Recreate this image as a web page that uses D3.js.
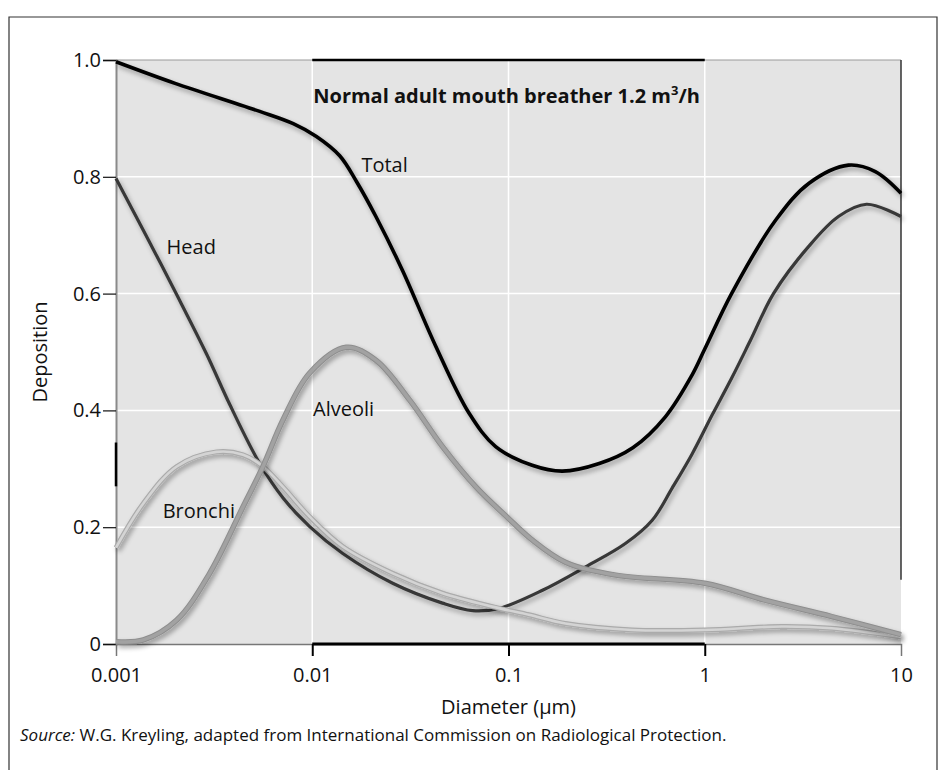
<!DOCTYPE html>
<html>
<head>
<meta charset="utf-8">
<script src="https://cdn.jsdelivr.net/npm/d3@7"></script>
<style>
  body { margin: 0; background: #fff; }
  text { font-family: "Open Sans", sans-serif; fill: #111; }
</style>
</head>
<body>
<div id="chart"></div>
<script>
// values (diameter in µm, deposition fraction)
var totalD = [0.001, 0.002, 0.0054, 0.008, 0.0105, 0.0138, 0.0168, 0.0211, 0.0288, 0.0427, 0.063, 0.086, 0.132, 0.188, 0.29, 0.43, 0.63, 0.86, 1, 1.37, 2.3, 3.4, 5.4, 7.4, 10];
var totalV = [0.997, 0.96, 0.912, 0.891, 0.869, 0.836, 0.792, 0.732, 0.64, 0.509, 0.395, 0.338, 0.306, 0.296, 0.309, 0.336, 0.389, 0.46, 0.505, 0.6, 0.726, 0.789, 0.82, 0.809, 0.772];

var headD = [0.001, 0.00138, 0.00204, 0.00289, 0.0038, 0.0054, 0.0071, 0.0097, 0.0143, 0.0257, 0.0461, 0.0656, 0.0895, 0.149, 0.247, 0.394, 0.54, 0.682, 0.861, 1.09, 1.37, 1.71, 2.24, 3.37, 4.8, 6.68, 10];
var headV = [0.797, 0.708, 0.598, 0.497, 0.41, 0.309, 0.25, 0.201, 0.155, 0.104, 0.07, 0.057, 0.061, 0.092, 0.132, 0.172, 0.212, 0.267, 0.325, 0.392, 0.455, 0.52, 0.6, 0.68, 0.732, 0.753, 0.732];

var alveoliD = [0.001, 0.00138, 0.00204, 0.003, 0.00444, 0.00561, 0.0071, 0.0097, 0.0149, 0.0211, 0.0313, 0.0461, 0.0682, 0.1, 0.13, 0.195, 0.352, 1, 2.03, 4.44, 10];
var alveoliV = [0.004, 0.007, 0.041, 0.121, 0.235, 0.304, 0.384, 0.464, 0.508, 0.486, 0.418, 0.338, 0.269, 0.215, 0.18, 0.14, 0.118, 0.104, 0.075, 0.047, 0.016];

var bronchiD = [0.001, 0.00138, 0.00204, 0.00325, 0.00444, 0.00561, 0.0071, 0.0097, 0.0143, 0.0257, 0.0461, 0.0828, 0.127, 0.195, 0.427, 1, 2.47, 4.44, 10];
var bronchiV = [0.165, 0.241, 0.304, 0.329, 0.324, 0.304, 0.269, 0.218, 0.167, 0.121, 0.087, 0.064, 0.05, 0.035, 0.024, 0.024, 0.03, 0.027, 0.012];

var xTicks = [0.001, 0.01, 0.1, 1, 10];
var yTicks = [0, 0.2, 0.4, 0.6, 0.8, 1.0];

var margin = { top: 60, right: 44, bottom: 126, left: 116 },
    width = 945 - margin.left - margin.right,
    height = 770 - margin.top - margin.bottom;

var root = d3.select("#chart")
    .append("svg")
    .attr("width", 945)
    .attr("height", 770);

// outer frame (no bottom edge visible)
root.append("path")
    .attr("d", "M9,770 L9,17 L937,17 L937,770")
    .attr("fill", "none")
    .attr("stroke", "#333")
    .attr("stroke-width", 1.2);

var svg = root.append("g")
    .attr("transform", "translate(" + margin.left + "," + margin.top + ")");

var x = d3.scaleLog().domain([0.001, 10]).range([0, width]);
var y = d3.scaleLinear().domain([0, 1]).range([height, 0]);

var defs = svg.append("defs");
var filter = defs.append("filter")
    .attr("id", "shadow")
    .attr("x", "-10%").attr("y", "-10%")
    .attr("width", "130%").attr("height", "130%");
filter.append("feGaussianBlur")
    .attr("in", "SourceAlpha")
    .attr("stdDeviation", 2.5)
    .attr("result", "blur");
filter.append("feOffset")
    .attr("in", "blur")
    .attr("dx", 2)
    .attr("dy", 3)
    .attr("result", "offsetBlur");
filter.append("feComponentTransfer")
    .attr("in", "offsetBlur")
    .attr("result", "faded")
    .append("feFuncA")
    .attr("type", "linear")
    .attr("slope", 0.35);
var feMerge = filter.append("feMerge");
feMerge.append("feMergeNode").attr("in", "faded");
feMerge.append("feMergeNode").attr("in", "SourceGraphic");

// plot background
svg.append("rect")
    .attr("width", width)
    .attr("height", height)
    .attr("fill", "#e4e4e4");

// grid
svg.selectAll(".hgrid")
    .data(yTicks.filter(function(d) { return d > 0 && d < 1; }))
    .enter().append("line")
    .attr("x1", 0).attr("x2", width)
    .attr("y1", function(d) { return y(d); })
    .attr("y2", function(d) { return y(d); })
    .attr("stroke", "#fff")
    .attr("stroke-width", 1.5);

svg.selectAll(".vgrid")
    .data(xTicks.slice(1, -1))
    .enter().append("line")
    .attr("y1", 0).attr("y2", height)
    .attr("x1", function(d) { return x(d); })
    .attr("x2", function(d) { return x(d); })
    .attr("stroke", "#fff")
    .attr("stroke-width", 1.5);

// frame lines of the plot
svg.append("line").attr("x1", 0).attr("x2", width).attr("y1", 0).attr("y2", 0)
    .attr("stroke", "#9a9a9a").attr("stroke-width", 1);
svg.append("line").attr("x1", x(0.01)).attr("x2", x(1)).attr("y1", 0).attr("y2", 0)
    .attr("stroke", "#000").attr("stroke-width", 2.5);
svg.append("line").attr("x1", width).attr("x2", width).attr("y1", 0).attr("y2", y(0.11))
    .attr("stroke", "#333").attr("stroke-width", 1.5);

// axes
var yAxis = svg.append("g")
    .call(d3.axisLeft(y)
        .tickValues(yTicks)
        .tickSize(13)
        .tickPadding(2)
        .tickFormat(function(d) { return d === 0 ? "0" : d3.format(".1f")(d); }));
yAxis.select(".domain").attr("stroke", "#8a8a8a").attr("stroke-width", 2);
yAxis.selectAll(".tick line").attr("stroke", "#111").attr("stroke-width", 1.2);
yAxis.selectAll("text").style("font-size", "20px").style("font-family", "'Open Sans', sans-serif").attr("fill", "#111");
yAxis.append("line")
    .attr("x1", 0).attr("x2", 0)
    .attr("y1", y(0.345)).attr("y2", y(0.27))
    .attr("stroke", "#000").attr("stroke-width", 2.5);

var xAxis = svg.append("g")
    .attr("transform", "translate(0," + height + ")")
    .call(d3.axisBottom(x)
        .tickValues(xTicks)
        .tickSize(12)
        .tickPadding(12)
        .tickFormat(function(d) { return String(d); }));
xAxis.select(".domain").attr("stroke", "#777").attr("stroke-width", 1.5);
xAxis.selectAll(".tick line")
    .attr("stroke", "#000")
    .attr("stroke-width", 2)
    .attr("display", function(d) { return (d === 0.001 || d === 10) ? "none" : null; });
xAxis.selectAll("text").style("font-size", "20px").style("font-family", "'Open Sans', sans-serif").attr("fill", "#111");
xAxis.append("line")
    .attr("x1", x(0.01)).attr("x2", x(1))
    .attr("y1", 0).attr("y2", 0)
    .attr("stroke", "#000").attr("stroke-width", 3);

// curves
var line = d3.line()
    .x(function(d) { return x(d[0]); })
    .y(function(d) { return y(d[1]); })
    .curve(d3.curveCatmullRom.alpha(0.5));

function pairs(ds, vs) {
    return ds.map(function(d, i) { return [d, vs[i]]; });
}

var head = pairs(headD, headV),
    bronchi = pairs(bronchiD, bronchiV),
    alveoli = pairs(alveoliD, alveoliV),
    total = pairs(totalD, totalV);

svg.append("path").datum(head)
    .attr("d", line).attr("fill", "none")
    .attr("stroke", "#383838").attr("stroke-width", 3.2)
    .style("filter", "url(#shadow)");

svg.append("path").datum(bronchi)
    .attr("d", line).attr("fill", "none")
    .attr("stroke", "#ababab").attr("stroke-width", 5)
    .style("filter", "url(#shadow)");
svg.append("path").datum(bronchi)
    .attr("d", line).attr("fill", "none")
    .attr("stroke", "#d4d4d4").attr("stroke-width", 2.6);

svg.append("path").datum(alveoli)
    .attr("d", line).attr("fill", "none")
    .attr("stroke", "#8e8e8e").attr("stroke-width", 5.5)
    .style("filter", "url(#shadow)");
svg.append("path").datum(alveoli)
    .attr("d", line).attr("fill", "none")
    .attr("stroke", "#a2a2a2").attr("stroke-width", 3.5);

svg.append("path").datum(total)
    .attr("d", line).attr("fill", "none")
    .attr("stroke", "#000").attr("stroke-width", 3.6)
    .style("filter", "url(#shadow)");

// curve labels
var labels = [
    { text: "Total", d: 0.0178, v: 0.808 },
    { text: "Head", d: 0.00181, v: 0.668 },
    { text: "Alveoli", d: 0.0101, v: 0.391 },
    { text: "Bronchi", d: 0.00173, v: 0.215 }
];
svg.selectAll(".curve-label")
    .data(labels)
    .enter().append("text")
    .attr("x", function(d) { return x(d.d); })
    .attr("y", function(d) { return y(d.v); })
    .style("font-size", "20px")
    .text(function(d) { return d.text; });

// title
var title = svg.append("text")
    .attr("x", x(0.01) + 1)
    .attr("y", 43)
    .style("font-size", "20px")
    .style("font-weight", "bold");
title.append("tspan").text("Normal adult mouth breather 1.2 m");
title.append("tspan").attr("dy", -8).style("font-size", "13px").text("3");
title.append("tspan").attr("dy", 8).text("/h");

// axis titles
svg.append("text")
    .attr("text-anchor", "middle")
    .attr("transform", "translate(-76," + (height / 2) + ") rotate(-90)")
    .attr("dy", "0.35em")
    .style("font-size", "20px")
    .text("Deposition");

svg.append("text")
    .attr("text-anchor", "middle")
    .attr("x", x(0.1))
    .attr("y", height + 70)
    .style("font-size", "20px")
    .text("Diameter (\u00b5m)");

// source
var src = root.append("text")
    .attr("x", 20)
    .attr("y", 741)
    .style("font-size", "17px");
src.append("tspan").style("font-style", "italic").text("Source:");
src.append("tspan").text(" W.G. Kreyling, adapted from International Commission on Radiological Protection.");
</script>
</body>
</html>
